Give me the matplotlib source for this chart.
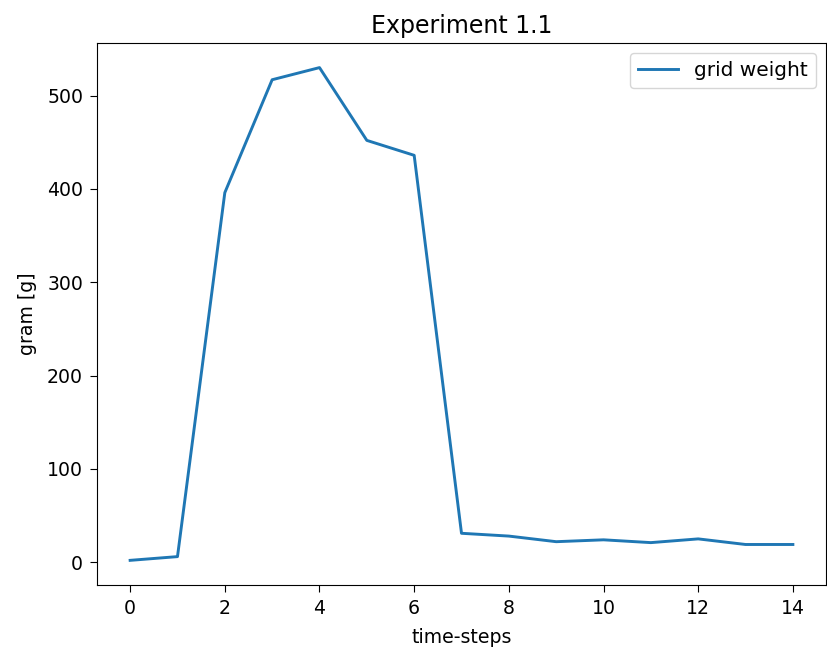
import numpy as np
import matplotlib
matplotlib.use("Agg")
import matplotlib.pyplot as plt

# time steps and measured grid weight
steps = list(range(15))
grid_weight = [2, 6, 396, 517, 530, 452, 436, 31, 28, 22, 24, 21, 25, 19, 19]

plt.rcParams['font.size'] = 13.6

fig = plt.figure(figsize=(8.27, 6.51), dpi=100)
ax = fig.add_axes([0.1173, 0.1014, 0.8815, 0.8326])

ax.plot(steps, grid_weight, color='#1f77b4', lw=2.1, label='grid weight')
ax.set_title('Experiment 1.1', fontsize=17, pad=7)
ax.set_xlabel('time-steps', fontsize=13.6, labelpad=7)
ax.set_ylabel('gram [g]', fontsize=13.6, labelpad=7)
ax.set_xticks(np.arange(0, 15, 2))
ax.tick_params(labelsize=13.6, length=5, pad=5)
ax.legend(loc='upper right', fontsize=14.5)

fig.savefig('out.png', dpi=100)
